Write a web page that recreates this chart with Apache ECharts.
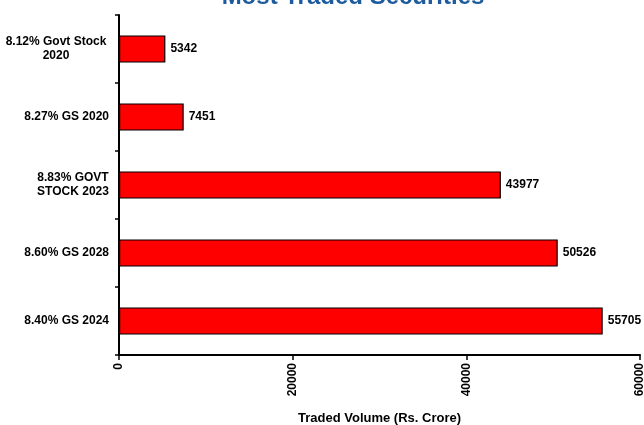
<!DOCTYPE html>
<html>
<head>
<meta charset="utf-8">
<script src="https://cdn.jsdelivr.net/npm/echarts@6/dist/echarts.min.js"></script>
<style>
  html, body { margin: 0; padding: 0; background: #fff; }
  #chart { width: 644px; height: 425px; }
</style>
</head>
<body>
<div id="chart"></div>
<script>
// Securities, listed top to bottom
const securities = [
  ['8.12% Govt Stock', '2020'],
  ['8.27% GS 2020'],
  ['8.83% GOVT', 'STOCK 2023'],
  ['8.60% GS 2028'],
  ['8.40% GS 2024']
];
const tradedVolume = [5342, 7451, 43977, 50526, 55705];
const xTicks = [0, 20000, 40000, 60000];

const FONT = 'Liberation Sans, Arial, sans-serif';
const categories = securities.map(s => s.join('\n'));

const chart = echarts.init(document.getElementById('chart'));
chart.setOption({
  animation: false,
  textStyle: { fontFamily: FONT },
  title: {
    text: 'Most Traded Securities',
    left: 348, top: -20, textAlign: 'center',
    textStyle: { fontFamily: FONT, fontSize: 24, fontWeight: 'bold', color: '#1C5B9E' }
  },
  grid: { left: 119, right: 4, top: 15, bottom: 70, containLabel: false, outerBoundsMode: 'none' },
  xAxis: {
    type: 'value',
    min: xTicks[0], max: xTicks[xTicks.length - 1], interval: xTicks[1] - xTicks[0],
    name: 'Traded Volume (Rs. Crore)',
    nameLocation: 'middle', nameGap: 57,
    nameTextStyle: { fontFamily: FONT, fontSize: 13, fontWeight: 'bold', color: '#000' },
    axisLine: { show: true, lineStyle: { color: '#000', width: 2 } },
    axisTick: { show: true, length: 5, lineStyle: { color: '#000', width: 1.5 } },
    axisLabel: {
      rotate: 90, margin: 8, fontFamily: FONT, fontSize: 12, fontWeight: 'bold', color: '#000',
      formatter: v => String(v)
    },
    splitLine: { show: false }
  },
  yAxis: {
    type: 'category', inverse: true,
    data: categories,
    axisLine: { show: true, lineStyle: { color: '#000', width: 2 } },
    axisTick: { show: true, length: 4, lineStyle: { color: '#000', width: 1.5 } },
    axisLabel: {
      margin: 10, align: 'right', color: '#000',
      fontFamily: FONT, fontSize: 12, fontWeight: 'bold', lineHeight: 14,
      formatter: (v, i) => {
        const lines = securities[i];
        if (lines.length === 1) return lines[0];
        const key = i === 0 ? 'w0' : 'w2';
        return lines.map(l => '{' + key + '|' + l + '}').join('\n');
      },
      rich: {
        w0: { width: 106, align: 'center', fontFamily: FONT, fontSize: 12, fontWeight: 'bold', color: '#000', lineHeight: 14 },
        w2: { width: 72, align: 'center', fontFamily: FONT, fontSize: 12, fontWeight: 'bold', color: '#000', lineHeight: 14 }
      }
    }
  },
  series: [{
    type: 'bar',
    data: tradedVolume,
    barWidth: '40%',
    itemStyle: { color: '#FF0000', borderColor: '#000', borderWidth: 1.2 },
    label: {
      show: true, position: 'right', distance: 5,
      fontFamily: FONT, fontSize: 12, fontWeight: 'bold', color: '#000'
    }
  }]
});
</script>
</body>
</html>
